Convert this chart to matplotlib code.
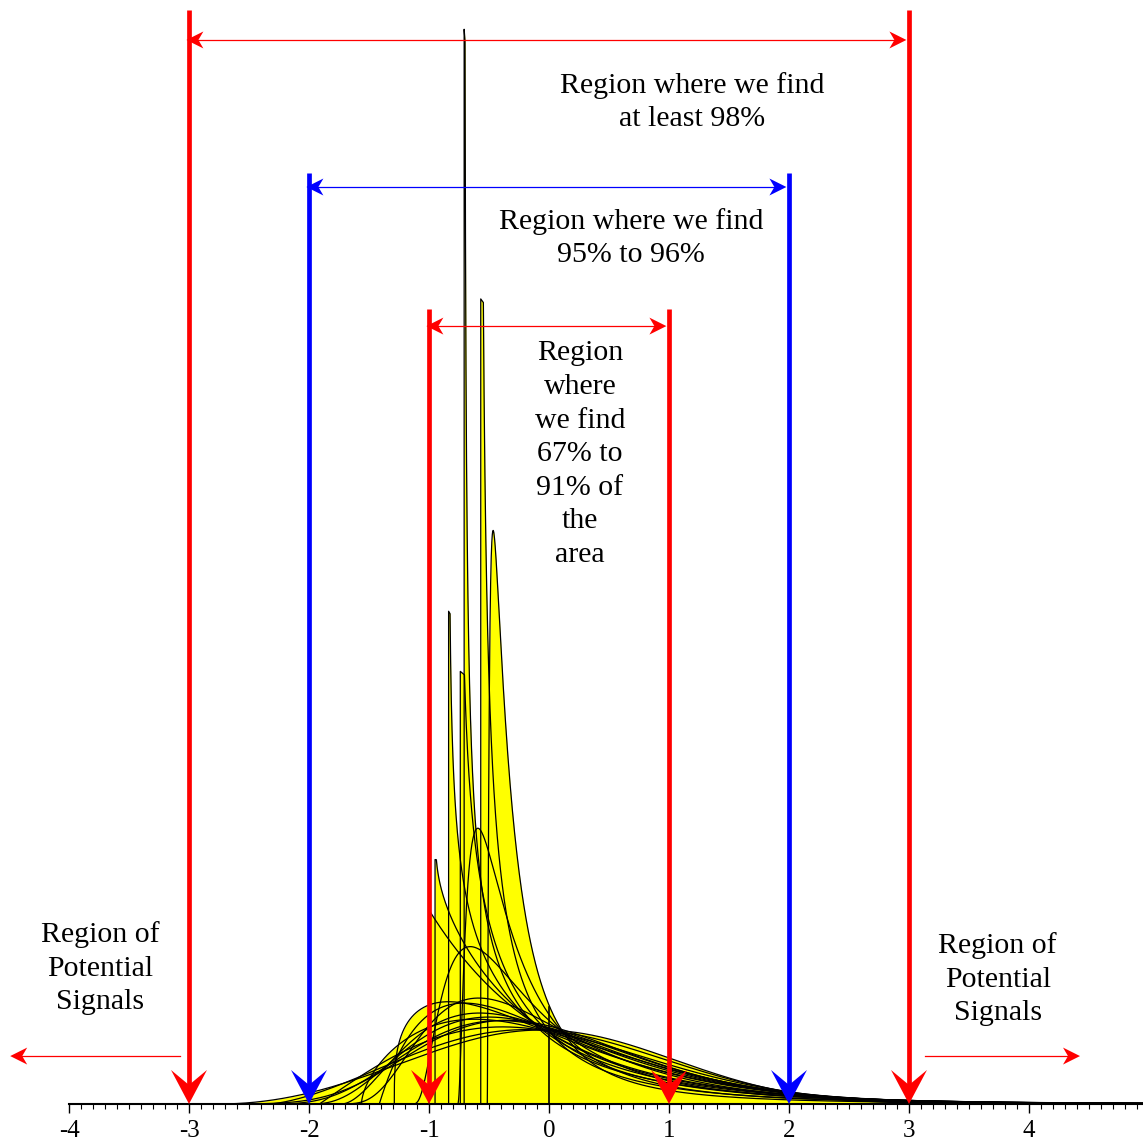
import math
import numpy as np
import matplotlib
matplotlib.use("Agg")
import matplotlib.pyplot as plt
from matplotlib.patches import Polygon

plt.rcParams['font.family'] = ['Liberation Serif', 'DejaVu Serif']
plt.rcParams['axes.unicode_minus'] = False

# shape parameters of the standardized distributions shown
gamma_shapes = [0.5, 0.7, 1.0, 2.0, 3.0, 4.0, 6.0]
weibull_shapes = [0.6, 0.75, 0.95, 1.3, 1.6, 2.0, 2.5, 3.0]
lognormal_sigmas = [0.25, 0.5, 0.75, 1.0, 1.25]

# heights where the J-shaped curves are cut off
spike_tops = {
    ('gamma', 0.5): 5.54,
    ('gamma', 0.7): 2.54,
    ('weibull', 0.6): 4.15,
    ('weibull', 0.75): 2.23,
    ('weibull', 0.95): 1.26,
}
mean_line_height = 0.5

# sigma limits and arrows
limit_x = [-3, -2, -1, 1, 2, 3]
limit_colors = ['#ff0000', '#0000ff', '#ff0000', '#ff0000', '#0000ff', '#ff0000']
limit_tops = [5.64, 4.80, 4.10, 4.10, 4.80, 5.64]
span_levels = [5.485, 4.727, 4.010]      # y of the double arrows for +-3, +-2, +-1
tick_values = [-4, -3, -2, -1, 0, 1, 2, 3, 4]

XMIN, XMAX = -4.575, 4.95
YMIN, YMAX = -0.196, 5.691


def std_pdf(kind, p):
    """平均0・標準偏差1に標準化した密度"""
    if kind == 'gamma':
        mu, s = p, math.sqrt(p)
        pdf = lambda y: np.exp((p - 1) * np.log(y) - y - math.lgamma(p))
    elif kind == 'weibull':
        mu = math.gamma(1 + 1 / p)
        s = math.sqrt(math.gamma(1 + 2 / p) - mu ** 2)
        pdf = lambda y: p * y ** (p - 1) * np.exp(-y ** p)
    else:
        mu = math.exp(p ** 2 / 2)
        s = mu * math.sqrt(math.exp(p ** 2) - 1)
        pdf = lambda y: np.exp(-np.log(y) ** 2 / (2 * p ** 2)) / (y * p * math.sqrt(2 * math.pi))
    lo = -mu / s
    t = np.concatenate([np.geomspace(1e-7, 0.05, 400), np.linspace(0.05, XMAX - lo, 2000)[1:]])
    x = lo + t
    d = s * pdf(s * t)
    top = spike_tops.get((kind, p))
    if top is not None:
        keep = d <= top
        return np.concatenate([[lo, lo], x[keep]]), np.concatenate([[0.0, top], d[keep]])
    return np.concatenate([[lo], x]), np.concatenate([[0.0], d])


fig = plt.figure(figsize=(11.43, 11.42), dpi=100)
ax = fig.add_axes([0, 0, 1, 1])
ax.set_xlim(XMIN, XMAX)
ax.set_ylim(YMIN, YMAX)
ax.patch.set_alpha(0)

curves = ([('gamma', a) for a in gamma_shapes] + [('weibull', b) for b in weibull_shapes]
          + [('lognormal', sg) for sg in lognormal_sigmas])
for kind, p in curves:
    x, d = std_pdf(kind, p)
    ax.fill_between(x, d, 0, color='#ffff00', lw=0, zorder=1)
for kind, p in curves:
    x, d = std_pdf(kind, p)
    ax.plot(x, d, color='black', lw=0.9, zorder=2)
ax.plot([0, 0], [0, mean_line_height], color='black', lw=1.2, zorder=2)


def arrow_head(x, y, direction, length, width, notch, color, gap=0.0):
    """矢じり（切れ込み付き）をピクセル単位で描く"""
    tx, ty = ax.transData.transform((x, y))
    dx, dy = direction
    tx -= dx * gap
    ty -= dy * gap
    px, py = -dy, dx
    pts = [
        (tx, ty),
        (tx - dx * length + px * width / 2, ty - dy * length + py * width / 2),
        (tx - dx * notch, ty - dy * notch),
        (tx - dx * length - px * width / 2, ty - dy * length - py * width / 2),
    ]
    data = ax.transData.inverted().transform(pts)
    ax.add_patch(Polygon(data, closed=True, facecolor=color, edgecolor='none', zorder=4))
    return ax.transData.inverted().transform([(tx - dx * notch, ty - dy * notch)])[0]


# vertical limit arrows
for xv, col, top in zip(limit_x, limit_colors, limit_tops):
    nx, ny = arrow_head(xv, 0, (0, -1), 34, 36, 19, col)
    ax.plot([xv, xv], [top, ny], color=col, lw=3.4, solid_capstyle='butt', zorder=4)

# horizontal double arrows between the limits
half_w = 2.6
for k, yl in enumerate(span_levels):
    lx, rx = limit_x[k], limit_x[5 - k]
    col = limit_colors[k]
    a = arrow_head(lx, yl, (-1, 0), 17, 17, 12, col, gap=-half_w)
    b = arrow_head(rx, yl, (1, 0), 17, 17, 12, col, gap=half_w)
    ax.plot([a[0], b[0]], [yl, yl], color=col, lw=0.9, zorder=4)

# arrows pointing outwards to the regions of potential signals
signal_level = 0.247
tip_l = arrow_head(-4.49, signal_level, (-1, 0), 17, 17, 12, '#ff0000')
ax.plot([-3.075, tip_l[0]], [signal_level, signal_level], color='#ff0000', lw=0.9, zorder=4)
tip_r = arrow_head(4.425, signal_level, (1, 0), 17, 17, 12, '#ff0000')
ax.plot([3.133, tip_r[0]], [signal_level, signal_level], color='#ff0000', lw=0.9, zorder=4)

txt = dict(ha='center', va='center', fontsize=21.5, linespacing=1.38, zorder=5)
ax.text(1.19, 5.165, 'Region where we find\nat least 98%', **txt)
ax.text(0.683, 4.464, 'Region where we find\n95% to 96%', **txt)
ax.text(0.258, 3.35, 'Region\nwhere\nwe find\n67% to\n91% of\nthe\narea', **txt)
ax.text(-3.74, 0.70, 'Region of\nPotential\nSignals', **txt)
ax.text(3.74, 0.644, 'Region of\nPotential\nSignals', **txt)

# axis
for side in ['left', 'right', 'top']:
    ax.spines[side].set_visible(False)
ax.spines['bottom'].set_position(('data', 0))
ax.spines['bottom'].set_bounds(-4, XMAX)
ax.spines['bottom'].set_linewidth(1.5)
ax.spines['bottom'].set_zorder(3)
ax.set_yticks([])
ax.set_xticks(tick_values)
ax.set_xticklabels([str(v) for v in tick_values], fontsize=18)
ax.set_xticks(np.arange(-4, 4.95, 0.1), minor=True)
ax.tick_params(axis='x', which='major', direction='out', length=6.5, width=1, pad=5)
ax.tick_params(axis='x', which='minor', direction='out', length=3.5, width=0.8)

fig.savefig('out.png', dpi=100)
